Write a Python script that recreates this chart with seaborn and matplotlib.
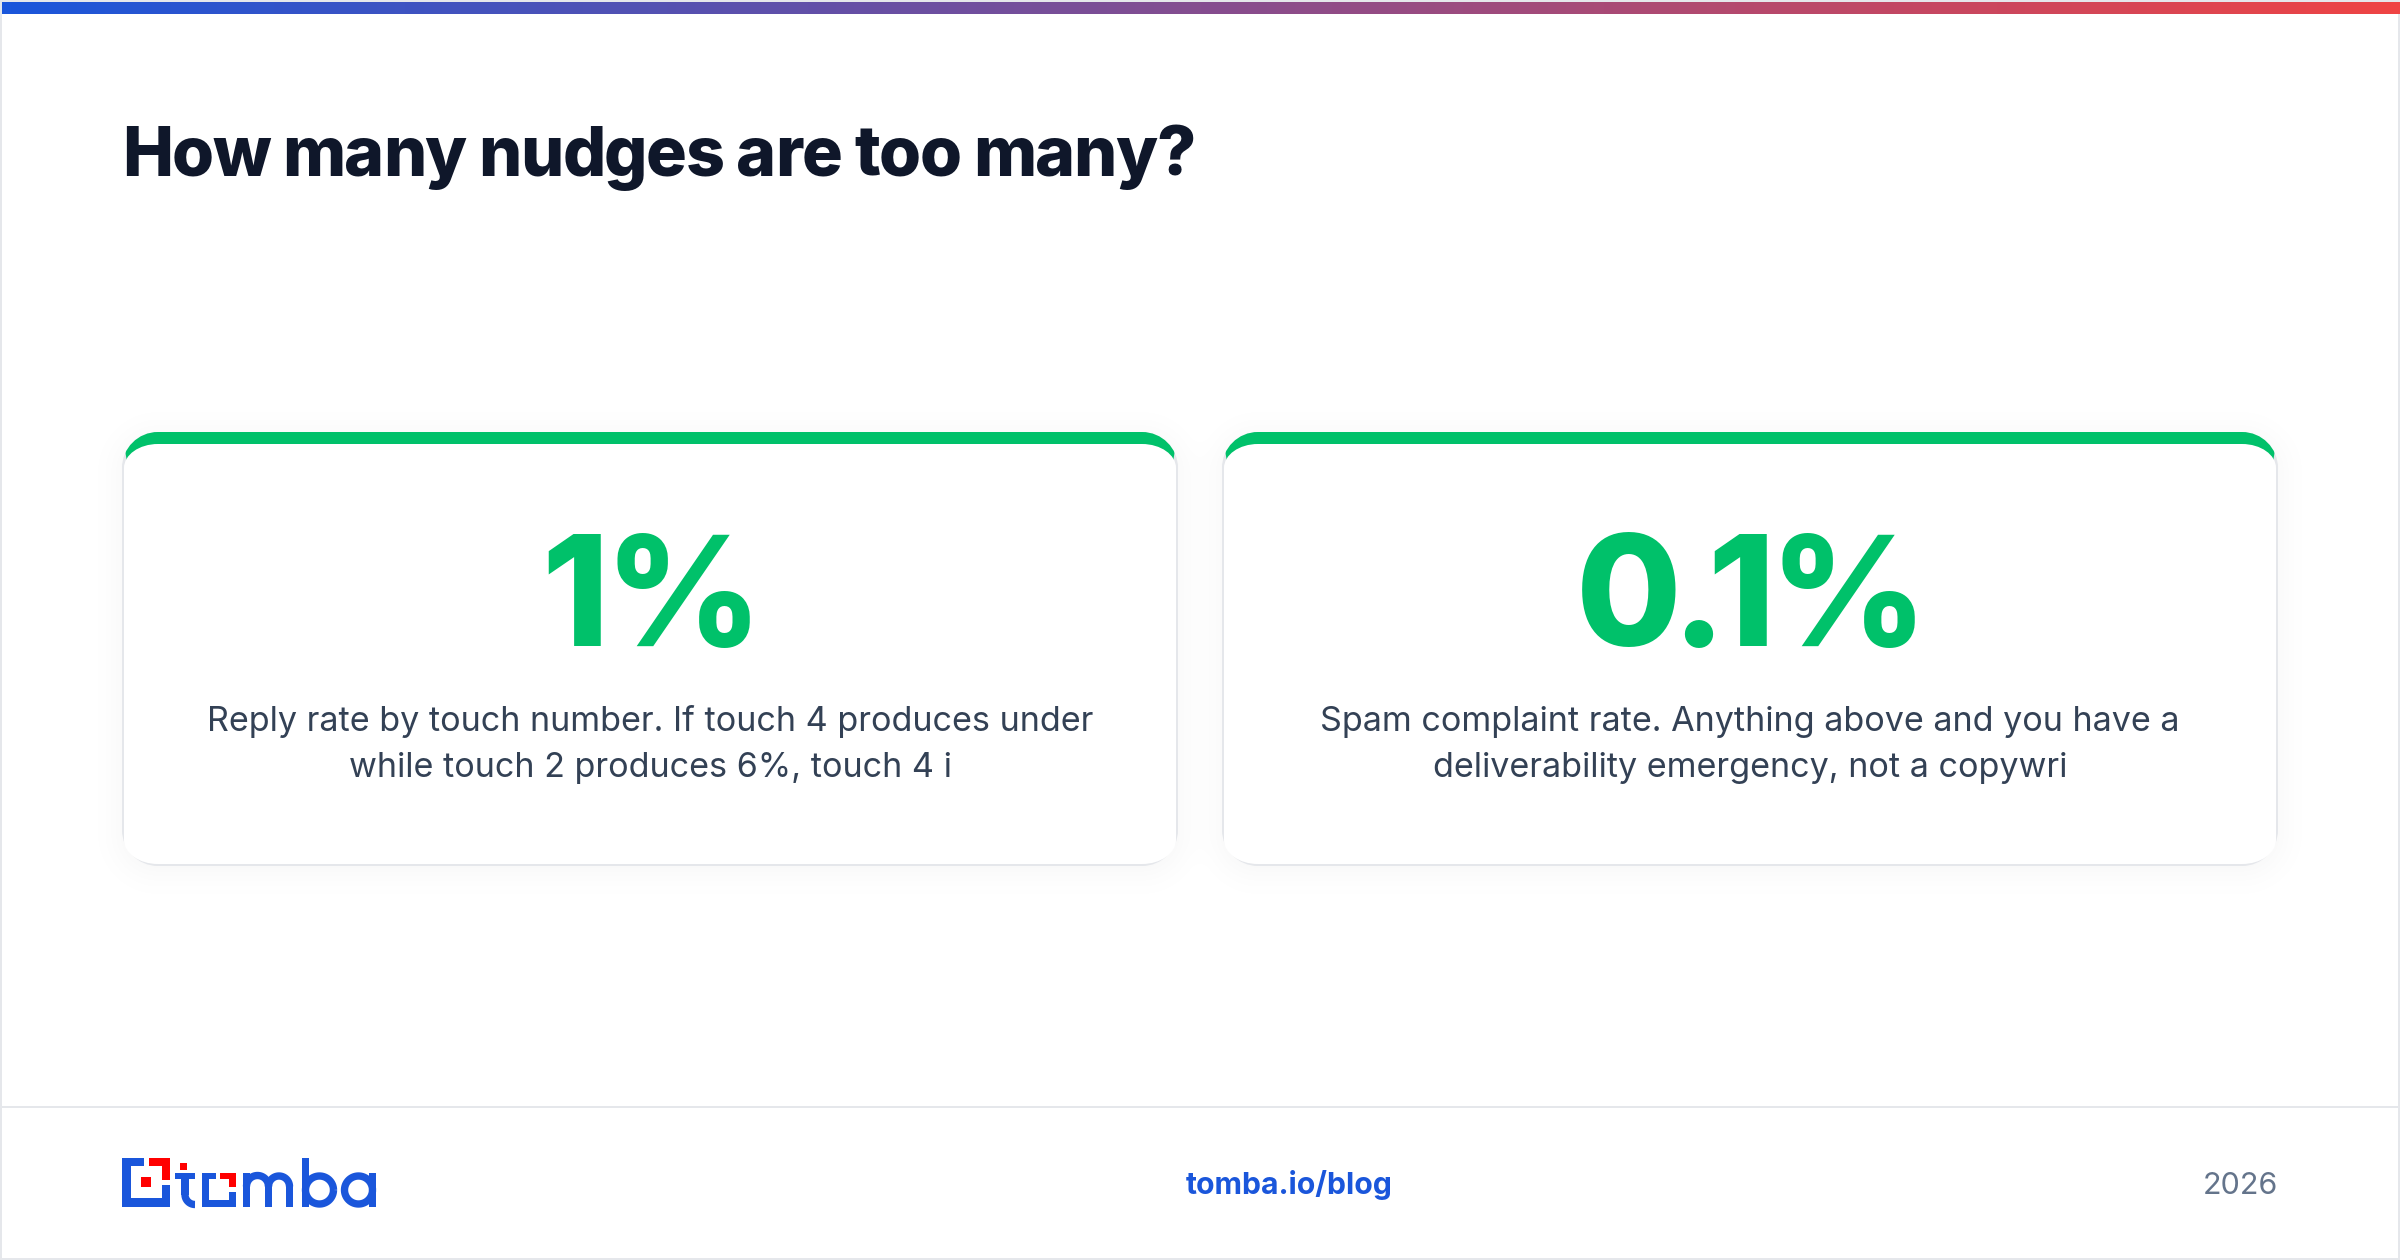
import matplotlib
matplotlib.use("Agg")
import matplotlib.pyplot as plt
import seaborn as sns
import numpy as np
from matplotlib.path import Path
from matplotlib.patches import PathPatch, Polygon, Rectangle
from matplotlib.text import Text

# card content
stat_values = ["1%", "0.1%"]
stat_captions = [
    "Reply rate by touch number. If touch 4 produces under\nwhile touch 2 produces 6%, touch 4 i",
    "Spam complaint rate. Anything above and you have a\ndeliverability emergency, not a copywri",
]
title = "How many nudges are too many?"
footer_url = "tomba.io/blog"
footer_year = "2026"
bar_colors = ["#1a56db", "#ef4444"]

GREEN = "#00c16a"
BORDER = "#e5e7eb"
INK = "#0f172a"
BODY = "#334155"
BLUE = "#1a56db"
RED = "#ff0000"

W, H = 2400, 1260

# px between glyph pairs of the big numbers, the reference uses a tighter cut of Inter
stat_spacing = [[-4], [-11, -18, -5]]


class TrackedText(Text):
    # matplotlib has no letter-spacing, so draw glyph by glyph with an offset
    def __init__(self, *args, tracking=0, **kwargs):
        super().__init__(*args, **kwargs)
        self.tracking = tracking

    def draw(self, renderer):
        full, ha, x0 = self.get_text(), self.get_ha(), self._x
        fp = self.get_fontproperties()

        def adv(s):
            return renderer.get_text_width_height_descent(s, fp, False)[0]

        gaps = self.tracking if isinstance(self.tracking, list) else [self.tracking] * (len(full) - 1)
        shift = np.concatenate([[0], np.cumsum(gaps)])
        total = adv(full) + shift[-1]
        start = x0 - total / 2 if ha == "center" else x0
        self._horizontalalignment = "left"
        for i, ch in enumerate(full):
            if ch == " ":
                continue
            self._text = ch
            self._x = start + adv(full[:i + 1]) - adv(ch) + shift[i]
            super().draw(renderer)
        self._text, self._x, self._horizontalalignment = full, x0, ha


def rounded(x0, y0, x1, y1, rx, ry):
    k = 0.5523
    verts = [
        (x0 + rx, y0), (x1 - rx, y0),
        (x1 - rx + k * rx, y0), (x1, y0 + ry - k * ry), (x1, y0 + ry),
        (x1, y1 - ry),
        (x1, y1 - ry + k * ry), (x1 - rx + k * rx, y1), (x1 - rx, y1),
        (x0 + rx, y1),
        (x0 + rx - k * rx, y1), (x0, y1 - ry + k * ry), (x0, y1 - ry),
        (x0, y0 + ry),
        (x0, y0 + ry - k * ry), (x0 + rx - k * rx, y0), (x0 + rx, y0),
    ]
    codes = [Path.MOVETO, Path.LINETO,
             Path.CURVE4, Path.CURVE4, Path.CURVE4, Path.LINETO,
             Path.CURVE4, Path.CURVE4, Path.CURVE4, Path.LINETO,
             Path.CURVE4, Path.CURVE4, Path.CURVE4, Path.LINETO,
             Path.CURVE4, Path.CURVE4, Path.CURVE4]
    return Path(verts, codes)


def card_shadow(x0, y0, x1, y1, r):
    # soft drop shadow, distance from the rounded box fading out
    px, py = np.meshgrid(np.arange(W) + 0.5, np.arange(H) + 0.5)
    cy = (y0 + y1) / 2 + 4
    cx = (x0 + x1) / 2
    qx = np.abs(px - cx) - ((x1 - x0) / 2 - r)
    qy = np.abs(py - cy) - ((y1 - y0) / 2 - r)
    d = np.hypot(np.maximum(qx, 0), np.maximum(qy, 0)) + np.minimum(np.maximum(qx, qy), 0) - r
    return 0.03 * np.clip(1 - (d + 8) / 50, 0, 1) ** 2


sns.set_theme(style="white")
plt.rcParams["font.family"] = ["Inter", "DejaVu Sans"]

fig = plt.figure(figsize=(24, 12.6), dpi=100)
ax = fig.add_axes([0, 0, 1, 1])
ax.set_xlim(0, W)
ax.set_ylim(H, 0)
ax.axis("off")

# page frame and gradient bar
ax.add_patch(Rectangle((1, 1), W - 2, H - 2, fc="white", ec=BORDER, lw=1.44))
bar_cmap = sns.blend_palette(bar_colors, as_cmap=True)
ax.imshow(np.linspace(0, 1, 512)[None, :], cmap=bar_cmap, extent=(2, W, 14, 2), aspect="auto", zorder=2)
ax.set_xlim(0, W)
ax.set_ylim(H, 0)

ax.add_artist(TrackedText(122, 176, title, tracking=-1.55, fontsize=49, fontweight=800, color=INK,
                          ha="left", va="baseline"))

# stat cards
card_w = 1056
card_lefts = [122, 1222]
card_top, card_bottom = 432, 866
shadow = sum(card_shadow(x, card_top, x + card_w, card_bottom, 36) for x in card_lefts)
rgba = np.zeros((H, W, 4))
rgba[..., 3] = shadow
ax.imshow(rgba, extent=(0, W, H, 0), aspect="auto", zorder=1, interpolation="nearest")

for x0, value, caption, spacing in zip(card_lefts, stat_values, stat_captions, stat_spacing):
    x1 = x0 + card_w
    outer = rounded(x0, card_top, x1, card_bottom, 36, 36)
    inner = rounded(x0 + 2, card_top + 12, x1 - 2, card_bottom - 2, 34, 24)
    ax.add_patch(PathPatch(outer, fc=BORDER, ec="none", zorder=3))
    green = PathPatch(outer, fc=GREEN, ec="none", zorder=3.1)
    ax.add_patch(green)
    # border colour changes along the corner diagonal
    wedge = Polygon([(x0, card_top), (x0 + 12, card_top + 72), (x1 - 12, card_top + 72), (x1, card_top)],
                    transform=ax.transData, fc="none", ec="none")
    ax.add_patch(wedge)
    green.set_clip_path(wedge)
    ax.add_patch(PathPatch(inner, fc="white", ec="none", zorder=3.2))
    cx = (x0 + x1) / 2
    ax.add_artist(TrackedText(cx + 1.5, 646, value, tracking=spacing, fontsize=110, fontweight=800, color=GREEN,
                              ha="center", va="baseline", zorder=4))
    for line, y in zip(caption.split("\n"), [730.5, 776.5]):
        ax.text(cx, y, line, fontsize=24.55, color=BODY, ha="center", va="baseline", zorder=4)

# footer
ax.plot([2, W - 2], [1106.5, 1106.5], color=BORDER, lw=1.44, solid_capstyle="butt", zorder=2)
ax.text(1289, 1194, footer_url, fontsize=21.7, fontweight="bold", color=BLUE, ha="center", va="baseline")
ax.text(2278, 1194, footer_year, fontsize=22, color="#64748b", ha="right", va="baseline")

# logo, square mark plus the t and o built from blocks
logo_blocks = [
    (122, 1158, 22, 8, BLUE), (122, 1158, 9, 49, BLUE), (122, 1198, 48, 9, BLUE), (162, 1185, 8, 22, BLUE),
    (149, 1158, 21, 8, RED), (162, 1158, 8, 22, RED), (141, 1177, 10, 10, RED),
    (180, 1163, 7, 7, RED), (175, 1173, 20, 6, BLUE), (181, 1173, 8, 22, BLUE),
    (202, 1173, 14, 6, BLUE), (202, 1173, 7, 34, BLUE), (202, 1200, 34, 7, BLUE), (229, 1192, 7, 15, BLUE),
    (220, 1173, 16, 6, RED), (229, 1173, 7, 14, RED),
    (243, 1173, 7, 34, BLUE), (265, 1186, 7, 21, BLUE), (286, 1186, 7, 21, BLUE),
    (302, 1158, 7, 49, BLUE), (369, 1173, 7, 34, BLUE),
]
for x, y, w, h, c in logo_blocks:
    ax.add_patch(Rectangle((x, y), w, h, fc=c, ec="none", zorder=4))


def logo_arc(cx, cy, r, t0, t1):
    t = np.radians(np.linspace(t0, t1, 60))
    ax.plot(cx + r * np.cos(t), cy + r * np.sin(t), color=BLUE, lw=5.3, solid_capstyle="butt", zorder=4)


logo_arc(257.5, 1186.5, 11, 180, 360)   # m
logo_arc(279, 1186.5, 10.5, 180, 360)
logo_arc(195, 1194.5, 10, 90, 180)      # t foot
logo_arc(319.5, 1190, 14, 0, 360)       # b bowl
logo_arc(358.5, 1190, 14, 0, 360)       # a bowl

fig.savefig("out.png", dpi=100)
plt.close(fig)
